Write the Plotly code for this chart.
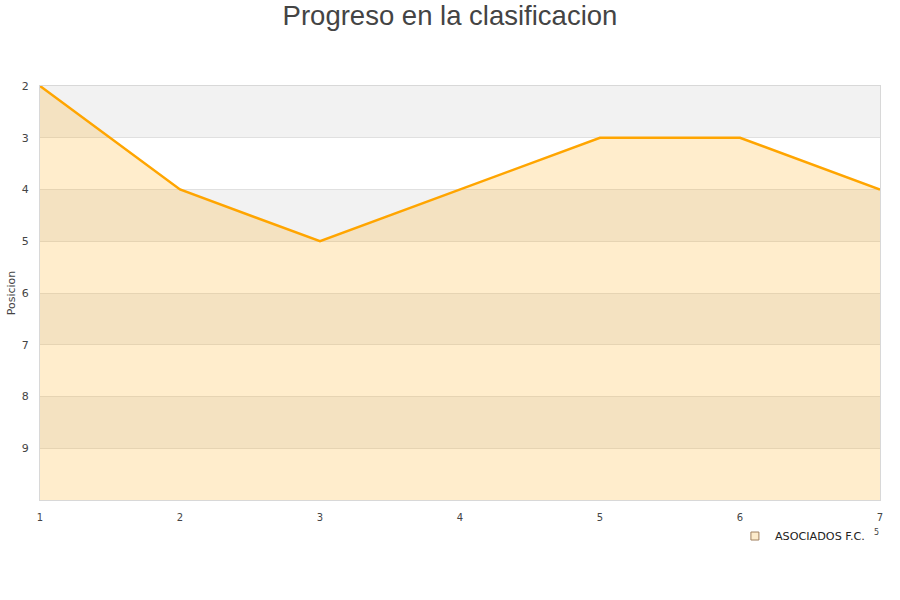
import plotly.graph_objects as go

# datos de la clasificacion
jornadas = [1, 2, 3, 4, 5, 6, 7]
posiciones = [2, 4, 5, 4, 3, 3, 4]
equipo = 'ASOCIADOS F.C.'
y_ticks = [2, 3, 4, 5, 6, 7, 8, 9]
y_fondo = 10

fig = go.Figure()

# linea + area hacia el fondo (eje invertido)
fig.add_trace(go.Scatter(x=jornadas, y=[y_fondo] * len(jornadas), mode='lines',
                         line=dict(width=0), showlegend=False, hoverinfo='skip'))
fig.add_trace(go.Scatter(x=jornadas, y=posiciones, mode='lines', name=equipo,
                         line=dict(color='#ffa500', width=2.5),
                         fill='tonexty', fillcolor='rgba(255,165,0,0.2)',
                         showlegend=False))
# entrada de leyenda
fig.add_trace(go.Scatter(x=[None], y=[None], mode='markers', name=equipo,
                         marker=dict(symbol='square', size=8, color='#fdebcb',
                                     line=dict(color='#a08060', width=1))))

# bandas alternas del fondo
for i, t in enumerate(y_ticks):
    if i % 2 == 0:
        fig.add_shape(type='rect', xref='paper', yref='y', x0=0, x1=1, y0=t, y1=t + 1,
                      fillcolor='#f2f2f2', line=dict(width=0), layer='below')

# resto de texto que aparece junto a la leyenda
fig.add_annotation(text='5', xref='paper', yref='paper', x=1.001, y=-0.094,
                   showarrow=False, font=dict(size=8, color='#444'))

fig.update_layout(
    width=900, height=600,
    margin=dict(l=40, r=20, t=86, b=100, autoexpand=False),
    paper_bgcolor='white', plot_bgcolor='white',
    font=dict(family='DejaVu Sans', color='#444', size=11),
    title=dict(text='Progreso en la clasificacion', x=0.5, xanchor='center',
               y=0.975, yanchor='middle',
               font=dict(family='Liberation Sans', size=27.5, color='#444')),
    legend=dict(x=0.988, xanchor='right', y=-0.087, yanchor='middle',
                font=dict(size=11.2, color='#222'), bgcolor='rgba(0,0,0,0)'),
    showlegend=True,
)
fig.update_xaxes(range=[1, 7], tickvals=jornadas, showgrid=False, zeroline=False,
                 showline=True, linecolor='#d8d8d8', mirror=True, automargin=False,
                 tickfont=dict(size=10), ticks='', ticklabelstandoff=8)
fig.update_yaxes(range=[y_fondo, 2], tickvals=y_ticks, showgrid=True,
                 gridcolor='#e0e0e0', zeroline=False, showline=True,
                 linecolor='#d8d8d8', mirror=True, ticks='', automargin=False,
                 tickfont=dict(size=11), ticklabelstandoff=8,
                 title=dict(text='Posicion', font=dict(size=11), standoff=3))

# quitar el margen por defecto del body para que la figura empiece en (0, 0)
fig.write_html("out.html", config={'displayModeBar': False},
               post_script="document.body.style.margin='0';")
